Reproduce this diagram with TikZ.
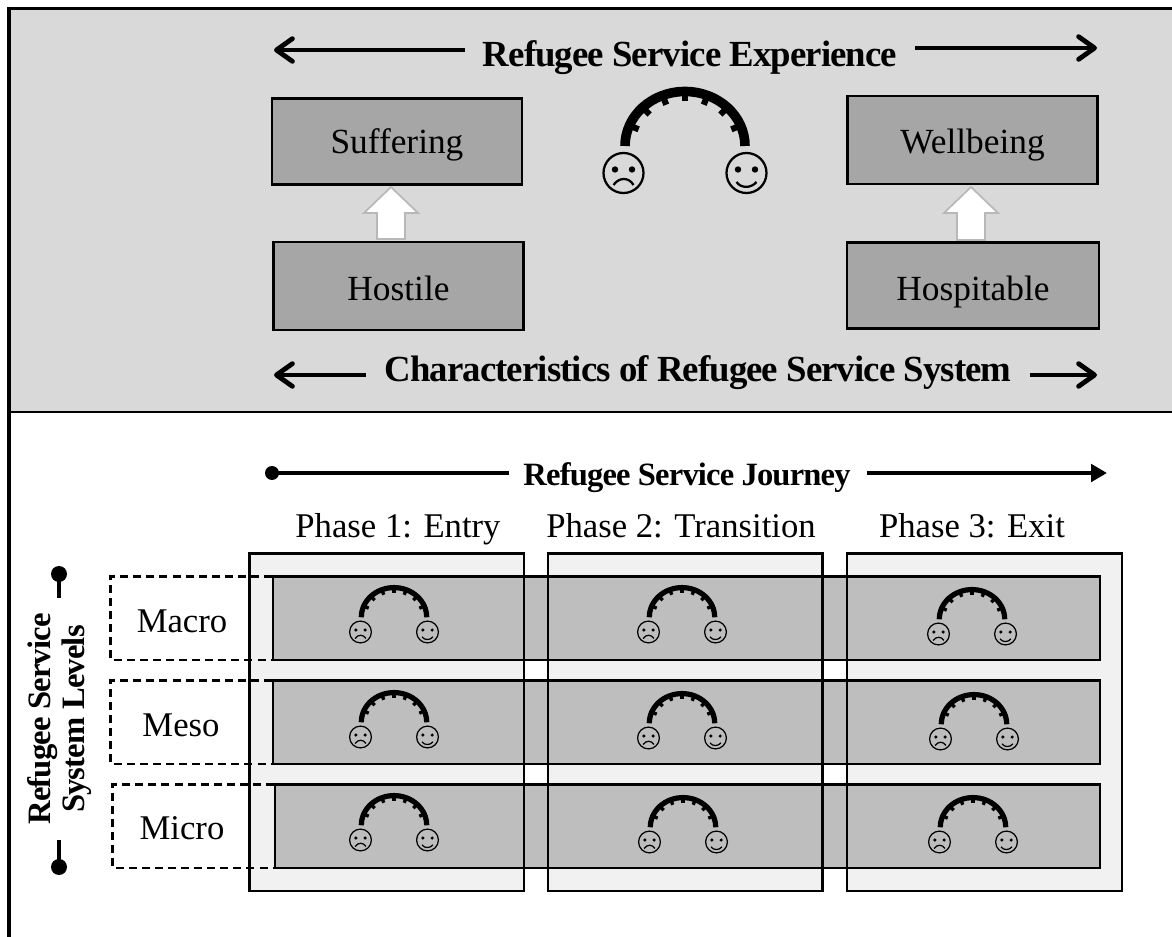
\documentclass[tikz,border=0pt]{standalone}
\usepackage{fontspec}
\setmainfont{Liberation Serif}
\usetikzlibrary{arrows.meta}
\definecolor{band}{gray}{0.85}
\definecolor{boxg}{gray}{0.65}
\definecolor{rowg}{gray}{0.745}
\definecolor{colg}{gray}{0.945}
\newfontfamily\tightbold[Scale=1,LetterSpace=-2.5]{Liberation Serif Bold}
\tikzset{
  x=0.75pt,y=0.75pt,
  frameline/.style={line width=2.5pt,black},
  stateBox/.style={draw=black,line width=2.2pt,fill=boxg,inner sep=0pt,text height=18pt,text depth=0pt,font=\fontsize{26.5}{30}\selectfont,text=black},
  titleText/.style={font=\tightbold\fontsize{27.6}{30}\selectfont,text=black,inner sep=0pt,anchor=base},
  phaseText/.style={font=\fontsize{26}{28}\selectfont,text=black,inner sep=0pt,anchor=base},
  levelText/.style={font=\fontsize{26}{28}\selectfont,text=black,inner sep=0pt,anchor=base},
  rowBox/.style={draw=black,line width=1.9pt,fill=rowg},
  colFill/.style={fill=colg},
  colEdge/.style={draw=black,line width=2.1pt},
  dashBox/.style={draw=black,line width=1.9pt,dash pattern=on 6pt off 3.8pt},
  bigarrow/.style={line width=3.6pt,-{Straight Barb[length=12pt,width=17pt,round,line width=3.6pt]}},
  journeyline/.style={line width=3.7pt},
  blockarrow/.style={draw=black!28,line width=1.3pt,fill=white},
}
% #1 x, #2 y of the midpoint between the two faces, #3 scale
\newcommand{\gaugeat}[3]{%
  \begin{scope}[shift={(#1,-#2)},scale=#3]
    \pgfmathsetmacro{\gs}{#3}
    \draw[line width=\gs*7.2pt] (-60,27) arc[start angle=180,end angle=0,x radius=60,y radius=54.5];
    \foreach \a in {22,45,68,90,112,135,158}{
      \draw[line width=\gs*4.6pt] ({60*cos(\a)},{27+54.5*sin(\a)}) -- ({50*cos(\a)},{27+44.5*sin(\a)});
    }
    \foreach \s in {-1,1}{
      \draw[line width=\gs*1.7pt] (\s*61.5,0) circle[radius=20];
      \fill (\s*61.5-8.5,3.5) circle[radius=3.2];
      \fill (\s*61.5+8.5,3.5) circle[radius=3.2];
    }
    \draw[line width=\gs*1.7pt] (-71.5,-12) .. controls (-66,-4) and (-56,-4) .. (-51.5,-12);
    \draw[line width=\gs*1.7pt] (51.5,-9) .. controls (56,-15.5) and (66,-15.5) .. (71.5,-9);
  \end{scope}%
}
\begin{document}
\begin{tikzpicture}
\useasboundingbox (0,0) rectangle (1172,-937);
\fill[white] (0,0) rectangle (1172,-937);
\fill[band] (9,-8) rectangle (1172,-412);
\draw[frameline] (1172,-8.5) -- (9,-8.5) -- (9,-937);
\draw[frameline,line width=2.1pt] (9,-412) -- (1172,-412);

% upper panel
\node[stateBox,minimum width=187.5pt,minimum height=65pt] (suff) at (397,-141.5) {Suffering};
\node[stateBox,text height=21pt,minimum width=188pt,minimum height=66pt] (well) at (972.5,-140) {Wellbeing};
\node[stateBox,text height=22pt,minimum width=188pt,minimum height=66pt] (host) at (398.5,-286) {Hostile};
\node[stateBox,text height=22pt,minimum width=189pt,minimum height=65pt] (hosp) at (973,-285.5) {Hospitable};
\draw[blockarrow] (391,-187) -- (418,-213) -- (405,-213) -- (405,-239) -- (377,-239) -- (377,-213) -- (364,-213) -- cycle;
\draw[blockarrow] (971,-187) -- (998,-213) -- (985,-213) -- (985,-240) -- (957,-240) -- (957,-213) -- (944,-213) -- cycle;
\gaugeat{685}{173}{1}

\node[titleText] (exp) at (690,-67) {Refugee Service Experience};
\coordinate (expL) at (274,-50);
\coordinate (expR) at (1097,-48);
\draw[bigarrow] (exp.west |- expL) ++(-18,0) coordinate (expLs) -- (expL);
\draw[bigarrow] (exp.east |- expR) ++(18,0) coordinate (expRs) -- (expR);

\node[titleText] (cha) at (698,-382) {Characteristics of Refugee Service System};
\coordinate (chaL) at (274,-375);
\coordinate (chaR) at (1097,-375);
\draw[bigarrow] (cha.west |- chaL) ++(-18,0) -- (chaL);
\draw[bigarrow] (cha.east |- chaR) ++(18,0) -- (chaR);

% lower panel
\node[titleText,font=\tightbold\fontsize{24.4}{28}\selectfont] (jou) at (687,-486) {Refugee Service Journey};
\coordinate (jouL) at (272,-473);
\coordinate (jouR) at (1107,-473);
\fill (jouL) circle[radius=7];
\draw[journeyline] (jou.west |- jouL) ++(-14,0) -- (jouL);
\draw[journeyline,-{Triangle[length=12pt,width=13pt]}] (jou.east |- jouR) ++(16,0) -- (jouR);

\node[phaseText] (ph1) at (398,-538) {Phase 1: Entry};
\node[phaseText] (ph2) at (681,-538) {Phase 2: Transition};
\node[phaseText] (ph3) at (972,-538) {Phase 3: Exit};

\fill[colFill] (249.5,-553.5) rectangle (524,-891);
\fill[colFill] (548,-553.5) rectangle (822.5,-891);
\fill[colFill] (847,-553.5) rectangle (1122,-891);

\draw[rowBox] (273,-576.5) rectangle (1100,-660);
\draw[rowBox] (273,-680.5) rectangle (1100,-764);
\draw[rowBox] (275,-784.5) rectangle (1100,-868);

\draw[dashBox] (272,-576.5) -- (110.5,-576.5) -- (110.5,-660) -- (272,-660);
\draw[dashBox] (272,-680.5) -- (110.5,-680.5) -- (110.5,-764) -- (272,-764);
\draw[dashBox] (274,-784.5) -- (112.5,-784.5) -- (112.5,-868) -- (274,-868);

\draw[colEdge] (249.5,-553.5) rectangle (524,-891);
\draw[colEdge] (548,-553.5) rectangle (822.5,-891);
\draw[colEdge] (847,-553.5) rectangle (1122,-891);

\node[levelText] (mac) at (182,-633) {Macro};
\node[levelText] (mes) at (181,-737) {Meso};
\node[levelText] (mic) at (182,-840) {Micro};

\foreach \gx/\gy in {394/632,394/737,394/840,682/632,682/738,683/842,972/634,974/739,973/842}{
  \gaugeat{\gx}{\gy}{0.545}
}

% side label
\node[rotate=90,align=center,font=\tightbold\fontsize{24.5}{25.5}\selectfont,inner sep=0pt] (lev) at (60,-719) {Refugee Service\\System Levels};
\coordinate (levT) at (59,-574);
\coordinate (levB) at (59,-867);
\fill (levT) circle[radius=8];
\fill (levB) circle[radius=8];
\draw[line width=3.6pt] (levT) -- (59,-598);
\draw[line width=3.6pt] (levB) -- (59,-840);
\end{tikzpicture}
\end{document}
